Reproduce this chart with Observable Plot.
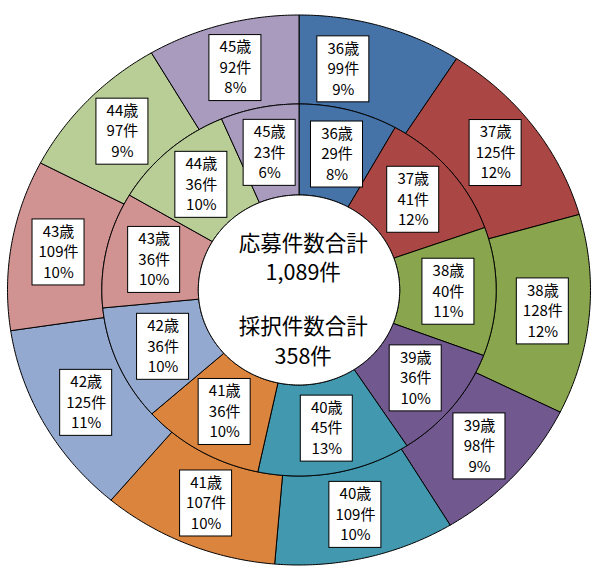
<!DOCTYPE html>
<html>
<head>
<meta charset="utf-8">
<script src="https://cdn.jsdelivr.net/npm/d3@7"></script>
<script src="https://cdn.jsdelivr.net/npm/@observablehq/plot@0.6"></script>
<style>
  html, body { margin: 0; padding: 0; background: #fff; }
  #chart svg { display: block; }
</style>
</head>
<body>
<div id="chart"></div>
<script>
// ---- data ----
const ages = ["36歳", "37歳", "38歳", "39歳", "40歳", "41歳", "42歳", "43歳", "44歳", "45歳"];
const applications = [99, 125, 128, 98, 109, 107, 125, 109, 97, 92];       // 応募件数 (outer ring)
const applicationPct = [9, 12, 12, 9, 10, 10, 11, 10, 9, 8];
const adoptions = [29, 41, 40, 36, 45, 36, 36, 36, 36, 23];                // 採択件数 (inner ring)
const adoptionPct = [8, 12, 11, 10, 13, 10, 10, 10, 10, 6];
const colors = ["#4572A7", "#AA4643", "#89A54E", "#71588F", "#4198AF",
                "#DB843D", "#93A9CF", "#D19392", "#B9CD96", "#A99BBD"];
const centerTitles = ["応募件数合計", "採択件数合計"];

// ---- layout ----
const W = 592, H = 566;
const CX = 299, CY = 290, SX = 1.06;   // centre and horizontal stretch
const R_HOLE = 95, R_MID = 186, R_OUT = 275;
const FONT = "'Noto Sans CJK JP', 'Noto Sans', sans-serif";

function buildRing(values, pcts, r0, r1, nudges) {
  const arcs = d3.pie().sort(null).value(d => d)(values);
  return arcs.map((a, i) => {
    const mid = (a.startAngle + a.endAngle) / 2;
    const rm = (r0 + r1) / 2;
    const nx = (nudges[i] || 0) / SX;
    return {
      age: ages[i], value: values[i], pct: pcts[i], color: colors[i],
      a0: a.startAngle, a1: a.endAngle, r0, r1,
      lx: rm * Math.sin(mid) + nx, ly: rm * Math.cos(mid)
    };
  });
}
// the first outer label is shifted left in the reference (pixels)
const outer = buildRing(applications, applicationPct, R_MID, R_OUT, {0: -25});
const inner = buildRing(adoptions, adoptionPct, R_HOLE, R_MID, {});
const labels = [...outer, ...inner];

function ringMark(slices) {
  return (index, scales) => {
    const g = d3.create("svg:g");
    const P = (r, a) => [scales.x(r * Math.sin(a)), scales.y(r * Math.cos(a))];
    for (const s of slices) {
      const n = Math.max(8, Math.ceil((s.a1 - s.a0) / 0.01));
      const pts = [];
      for (let k = 0; k <= n; k++) pts.push(P(s.r1, s.a0 + (s.a1 - s.a0) * k / n));
      for (let k = n; k >= 0; k--) pts.push(P(s.r0, s.a0 + (s.a1 - s.a0) * k / n));
      g.append("path")
        .attr("d", "M" + pts.map(p => p.join(",")).join("L") + "Z")
        .attr("fill", s.color)
        .attr("stroke", "#000")
        .attr("stroke-width", 1)
        .attr("stroke-linejoin", "round");
    }
    return g.node();
  };
}

function holeMark() {
  return (index, scales) => {
    const g = d3.create("svg:g");
    const pts = d3.range(0, 361).map(k => {
      const a = k * Math.PI / 180;
      return [scales.x(R_HOLE * Math.sin(a)), scales.y(R_HOLE * Math.cos(a))];
    });
    g.append("path").attr("d", "M" + pts.map(p => p.join(",")).join("L") + "Z")
      .attr("fill", "#fff").attr("stroke", "#000").attr("stroke-width", 1);
    return g.node();
  };
}

function boxMark(items) {
  return (index, scales) => {
    const g = d3.create("svg:g");
    for (const d of items) {
      g.append("rect")
        .attr("x", scales.x(d.lx) - 26)
        .attr("y", scales.y(d.ly) - 33)
        .attr("width", 52).attr("height", 66)
        .attr("fill", "#fff").attr("stroke", "#000").attr("stroke-width", 1);
    }
    return g.node();
  };
}

const total1 = d3.sum(applications), total2 = d3.sum(adoptions);
const fmt = d3.format(",");
const centerText = [
  {t: centerTitles[0], y: 46}, {t: fmt(total1) + "件", y: 17},
  {t: centerTitles[1], y: -37}, {t: fmt(total2) + "件", y: -67}
];

const chart = Plot.plot({
  width: W, height: H,
  marginTop: 0, marginRight: 0, marginBottom: 0, marginLeft: 0,
  x: {type: "linear", domain: [-CX / SX, (W - CX) / SX], range: [0, W], axis: null},
  y: {type: "linear", domain: [CY, CY - H], range: [0, H], axis: null},
  style: {background: "#fff"},
  marks: [
    ringMark(outer),
    ringMark(inner),
    holeMark(),
    boxMark(labels),
    Plot.text(labels, {x: "lx", y: "ly", text: "age", dy: -20.5,
      fontSize: 15, fontFamily: FONT, fill: "#000", ariaLabel: "age-label"}),
    Plot.text(labels, {x: "lx", y: "ly", text: d => d.value + "件",
      fontSize: 15, fontFamily: FONT, fill: "#000", ariaLabel: "count-label"}),
    Plot.text(labels, {x: "lx", y: "ly", text: d => d.pct + "%", dy: 20.5,
      fontSize: 15, fontFamily: FONT, fill: "#000", ariaLabel: "pct-label"}),
    Plot.text(centerText, {x: () => 3.5, y: "y", text: "t",
      fontSize: 21.5, fontFamily: FONT, fill: "#000"})
  ]
});
document.getElementById("chart").appendChild(chart);

// wider spacing of the age line, as in the reference
d3.select(chart).selectAll('g[aria-label="age-label"] text').attr("letter-spacing", "2px");
</script>
</body>
</html>
